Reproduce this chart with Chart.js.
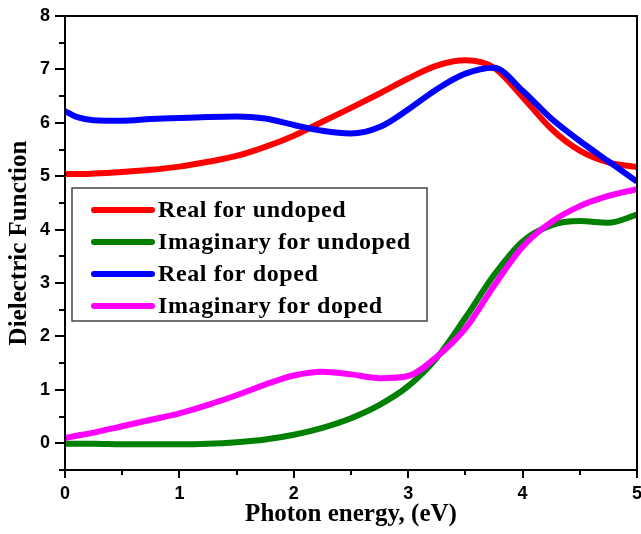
<!DOCTYPE html>
<html>
<head>
<meta charset="utf-8">
<script src="https://cdn.jsdelivr.net/npm/chart.js@4"></script>
<style>
    html, body { margin: 0; padding: 0; background: #fff; }
    #wrap { width: 641px; height: 534px; }
</style>
</head>
<body>
<div id="wrap"><canvas id="dielectricChart" width="641" height="534"></canvas></div>
<script>
// photon energy (eV) and the four dielectric curves
const energy       = [0, 0.1, 0.25, 0.5, 0.75, 1, 1.25, 1.5, 1.75, 2, 2.25, 2.5, 2.75, 3, 3.25, 3.5, 3.75, 4, 4.25, 4.5, 4.75, 5];
const realUndoped  = [5.04, 5.04, 5.05, 5.08, 5.12, 5.18, 5.27, 5.38, 5.55, 5.76, 6.02, 6.28, 6.55, 6.83, 7.07, 7.17, 7.03, 6.48, 5.89, 5.48, 5.26, 5.17];
const imagUndoped  = [-0.01, -0.01, -0.01, -0.02, -0.02, -0.02, -0.01, 0.02, 0.07, 0.16, 0.29, 0.47, 0.72, 1.07, 1.6, 2.35, 3.15, 3.78, 4.08, 4.16, 4.13, 4.28];
const realDoped    = [6.22, 6.11, 6.05, 6.04, 6.07, 6.09, 6.11, 6.12, 6.08, 5.96, 5.85, 5.8, 5.92, 6.25, 6.63, 6.92, 7.03, 6.6, 6.08, 5.66, 5.28, 4.9];
const imagDoped    = [0.1, 0.14, 0.2, 0.32, 0.44, 0.56, 0.72, 0.9, 1.1, 1.27, 1.34, 1.29, 1.22, 1.26, 1.62, 2.15, 2.95, 3.68, 4.14, 4.44, 4.63, 4.76];

const seriesLabels = ['Real for undoped', 'Imaginary for undoped', 'Real for doped', 'Imaginary for doped'];
const seriesColors = ['#ff0000', '#008000', '#0000ff', '#ff00ff'];
const seriesValues = [realUndoped, imagUndoped, realDoped, imagDoped];

const xTicks = [0, 1, 2, 3, 4, 5];
const yTicks = [0, 1, 2, 3, 4, 5, 6, 7, 8];

function points(vals) {
    return vals.map(function(v, i) { return { x: energy[i], y: v }; });
}

// frame, major/minor tick marks and the boxed legend
const framePlugin = {
    id: 'frame',
    afterDraw: function(chart) {
        const ctx = chart.ctx;
        const a = chart.chartArea;
        const xs = chart.scales.x;
        const ys = chart.scales.y;
        ctx.save();
        ctx.strokeStyle = '#000';
        ctx.lineWidth = 2;
        ctx.lineCap = 'butt';

        ctx.beginPath();
        for (let i = 0; i <= 10; i++) {
            const v = i * 0.5;
            const px = Math.round(xs.getPixelForValue(v));
            const len = (i % 2 === 0) ? 8 : 5;
            ctx.moveTo(px, a.bottom);
            ctx.lineTo(px, a.bottom + len);
        }
        for (let i = 0; i <= 17; i++) {
            const v = -0.5 + i * 0.5;
            const py = Math.round(ys.getPixelForValue(v));
            const len = (i % 2 === 1) ? 10 : 6;
            ctx.moveTo(a.left, py);
            ctx.lineTo(a.left - len, py);
        }
        ctx.stroke();
        ctx.strokeRect(a.left, a.top, a.right - a.left, a.bottom - a.top);

        // legend box
        const lx = 72, ly = 188, lw = 355, lh = 133;
        ctx.fillStyle = '#fff';
        ctx.fillRect(lx, ly, lw, lh);
        ctx.strokeStyle = '#444';
        ctx.lineWidth = 1.5;
        ctx.strokeRect(lx, ly, lw, lh);
        ctx.font = 'bold 24px "Liberation Serif", "Times New Roman", serif';
        ctx.textBaseline = 'middle';
        ctx.letterSpacing = '0.6px';
        seriesLabels.forEach(function(label, i) {
            const y = 210 + i * 32;
            ctx.strokeStyle = seriesColors[i];
            ctx.lineWidth = 6;
            ctx.lineCap = 'round';
            ctx.beginPath();
            ctx.moveTo(94, y);
            ctx.lineTo(152, y);
            ctx.stroke();
            ctx.fillStyle = '#000';
            ctx.fillText(label, 158, y + 1);
        });
        ctx.restore();
    }
};

new Chart(document.getElementById('dielectricChart'), {
    type: 'line',
    data: {
        datasets: seriesValues.map(function(vals, i) {
            return {
                label: seriesLabels[i],
                data: points(vals),
                borderColor: seriesColors[i],
                borderWidth: 6,
                pointRadius: 0,
                fill: false,
                cubicInterpolationMode: 'monotone',
                order: 4 - i
            };
        })
    },
    options: {
        responsive: false,
        animation: false,
        layout: { padding: { top: 16, right: 4, left: 0, bottom: 0 } },
        plugins: { legend: { display: false }, tooltip: { enabled: false } },
        scales: {
            x: {
                type: 'linear',
                min: 0, max: 5,
                grid: { display: false, drawTicks: false },
                border: { display: false },
                afterFit: function(s) { s.height = 64; s.paddingLeft = 0; s.paddingRight = 0; },
                afterBuildTicks: function(s) { s.ticks = xTicks.map(function(v) { return { value: v }; }); },
                ticks: {
                    padding: 13,
                    color: '#000',
                    font: { family: '"Liberation Sans", Arial, sans-serif', size: 18, weight: 'bold' }
                },
                title: {
                    display: true,
                    text: 'Photon energy, (eV)',
                    color: '#000',
                    padding: { top: 0, bottom: 4 },
                    font: { family: '"Liberation Serif", "Times New Roman", serif', size: 25, weight: 'bold' }
                }
            },
            y: {
                type: 'linear',
                min: -0.5, max: 8,
                grid: { display: false, drawTicks: false },
                border: { display: false },
                afterFit: function(s) { s.width = 65; s.paddingTop = 0; s.paddingBottom = 0; },
                afterBuildTicks: function(s) { s.ticks = yTicks.map(function(v) { return { value: v }; }); },
                ticks: {
                    padding: 15,
                    color: '#000',
                    font: { family: '"Liberation Sans", Arial, sans-serif', size: 18, weight: 'bold' }
                },
                title: {
                    display: true,
                    text: 'Dielectric Function',
                    color: '#000',
                    padding: { top: 5, bottom: 0 },
                    font: { family: '"Liberation Serif", "Times New Roman", serif', size: 25, weight: 'bold' }
                }
            }
        }
    },
    plugins: [framePlugin]
});
</script>
</body>
</html>
